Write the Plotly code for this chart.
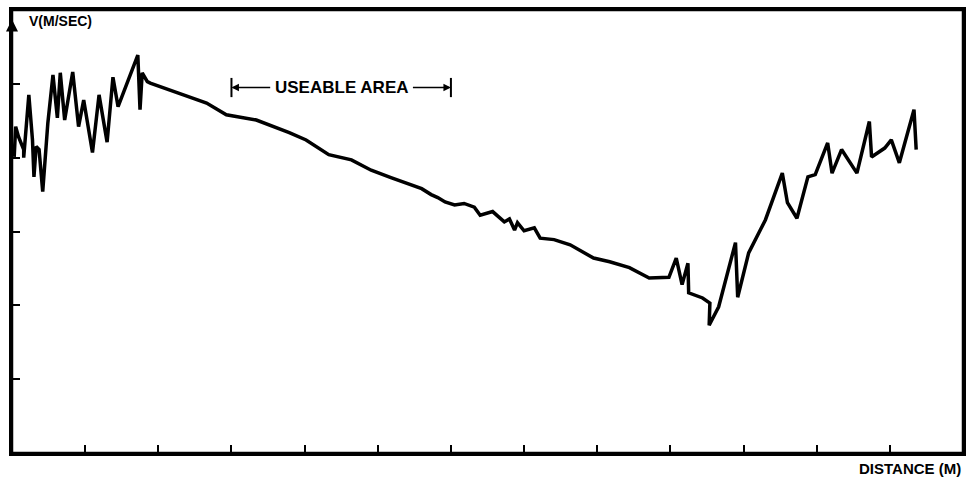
import plotly.graph_objects as go

# Distance (m) and velocity (m/s)
distance = [0.03, 0.05, 0.09, 0.16, 0.16, 0.23, 0.28, 0.30, 0.33, 0.37, 0.42, 0.49, 0.56, 0.62, 0.66,
            0.72, 0.83, 0.91, 0.98, 1.10, 1.19, 1.30, 1.38, 1.45, 1.72, 1.75, 1.78, 1.85, 1.89, 2.16,
            2.43, 2.66, 2.93, 3.34, 3.79, 4.02, 4.33, 4.64, 4.91, 5.18, 5.45, 5.60, 5.73, 5.82, 5.92,
            6.05, 6.18, 6.32, 6.40, 6.57, 6.73, 6.80, 6.87, 6.91, 7.00, 7.14, 7.22, 7.41, 7.63, 7.95,
            8.17, 8.44, 8.71, 8.98, 9.08, 9.16, 9.24, 9.25, 9.44, 9.54, 9.53, 9.61, 9.66, 9.89, 9.92,
            10.07, 10.30, 10.53, 10.60, 10.73, 10.88, 10.98, 11.15, 11.21, 11.34, 11.55, 11.72, 11.75,
            11.93, 12.02, 12.13, 12.33, 12.36]
velocity = [4.01, 4.42, 4.28, 4.11, 4.00, 4.85, 4.24, 3.74, 4.15, 4.11, 3.54, 4.47, 5.12, 4.54, 5.15,
            4.51, 5.16, 4.42, 4.78, 4.07, 4.85, 4.21, 5.09, 4.69, 5.39, 4.65, 5.15, 5.03, 5.01, 4.92,
            4.82, 4.74, 4.58, 4.51, 4.34, 4.24, 4.04, 3.97, 3.83, 3.73, 3.63, 3.58, 3.50, 3.46, 3.40,
            3.36, 3.38, 3.33, 3.22, 3.27, 3.13, 3.17, 3.02, 3.12, 3.01, 3.05, 2.91, 2.89, 2.82, 2.64,
            2.59, 2.51, 2.37, 2.38, 2.64, 2.28, 2.57, 2.17, 2.10, 2.03, 1.73, 1.90, 1.98, 2.85, 2.11,
            2.71, 3.16, 3.79, 3.39, 3.18, 3.74, 3.77, 4.20, 3.79, 4.11, 3.79, 4.49, 4.01,
            4.13, 4.24, 3.93, 4.65, 4.11]

x_ticks = [1, 2, 3, 4, 5, 6, 7, 8, 9, 10, 11, 12]
y_ticks = [1, 2, 3, 4, 5]
x_range = [0, 13]
y_range = [0, 6]
useable_area = [3.0, 6.0]
useable_level = 4.95
useable_text_gap = [3.55, 5.46]

FONT = "Liberation Sans"

fig = go.Figure()
fig.add_trace(go.Scatter(x=distance, y=velocity, mode="lines",
                         line=dict(color="black", width=3.5), hoverinfo="skip"))

axis_common = dict(showline=True, linecolor="black", linewidth=2.5, mirror=True,
                   ticks="inside", ticklen=8, tickwidth=2, tickcolor="black",
                   showticklabels=False, showgrid=False, zeroline=False)
fig.update_xaxes(range=x_range, tickvals=x_ticks, **axis_common)
fig.update_yaxes(range=y_range, tickvals=y_ticks, **axis_common)

# Frame (makes sure the right edge is drawn)
fig.add_shape(type="rect", xref="paper", yref="paper", x0=0, x1=1, y0=0, y1=1,
              line=dict(color="black", width=2.5), layer="above")

# Useable area bracket
for xb in useable_area:
    fig.add_shape(type="line", x0=xb, x1=xb, y0=useable_level - 0.13, y1=useable_level + 0.13,
                  line=dict(color="black", width=2))
fig.add_annotation(x=useable_area[0], y=useable_level, ax=useable_text_gap[0], ay=useable_level,
                   axref="x", ayref="y", xref="x", yref="y", text="", showarrow=True,
                   arrowhead=2, arrowsize=1, arrowwidth=1.5, arrowcolor="black")
fig.add_annotation(x=useable_area[1], y=useable_level, ax=useable_text_gap[1], ay=useable_level,
                   axref="x", ayref="y", xref="x", yref="y", text="", showarrow=True,
                   arrowhead=2, arrowsize=1, arrowwidth=1.5, arrowcolor="black")
fig.add_annotation(x=sum(useable_text_gap) / 2, y=useable_level, xref="x", yref="y",
                   text="<b>USEABLE AREA</b>", showarrow=False,
                   font=dict(family=FONT, size=17, color="black"))

# Axis titles
fig.add_annotation(x=0.016, y=0.975, xref="paper", yref="paper", xanchor="left", yanchor="middle",
                   text="<b>V(M/SEC)</b>", showarrow=False,
                   font=dict(family=FONT, size=14, color="black"))
fig.add_annotation(x=1.0, y=-0.036, xref="paper", yref="paper", xanchor="right", yanchor="middle",
                   text="<b>DISTANCE (M)</b>", showarrow=False,
                   font=dict(family=FONT, size=15, color="black"))
# y-axis arrowhead
fig.add_annotation(x=0, y=5.87, xref="x", yref="y", ax=0, ay=14, text="", showarrow=True,
                   arrowhead=2, arrowsize=1.2, arrowwidth=2, arrowcolor="black")

fig.update_layout(width=971, height=479, margin=dict(l=12, r=5, t=10, b=26),
                  paper_bgcolor="white", plot_bgcolor="white", showlegend=False)

fig.write_html("out.html", config={"displayModeBar": False},
               post_script="document.body.style.margin='0';")
